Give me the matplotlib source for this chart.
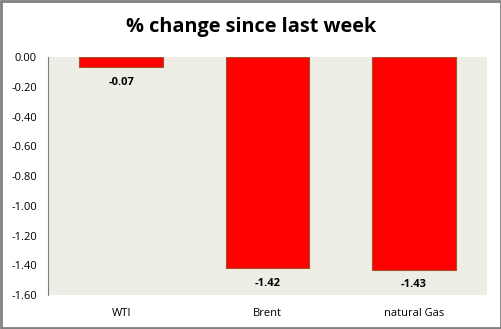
import matplotlib
matplotlib.use("Agg")
import matplotlib.pyplot as plt
from matplotlib.patches import Rectangle

categories = ["WTI", "Brent", "natural Gas"]
values = [-0.07, -1.42, -1.43]
yticks = [0.0, -0.2, -0.4, -0.6, -0.8, -1.0, -1.2, -1.4, -1.6]

plt.rcParams['font.family'] = ['Open Sans', 'DejaVu Sans']

fig = plt.figure(figsize=(5.02, 3.29), dpi=100)
fig.patch.set_facecolor("white")
ax = fig.add_axes([0.0956, 0.1033, 0.8745, 0.7234])
ax.set_facecolor("#EEEEE6")

x = list(range(len(categories)))
bars = ax.bar(x, values, width=0.57, color="#FF0000", edgecolor="#A0522D", linewidth=0.8)
ax.set_xlim(-0.5, 2.5)
ax.set_ylim(-1.6, 0.0)
ax.set_yticks(yticks)
ax.set_yticklabels([f"{v:.2f}" for v in yticks], fontsize=8)
ax.set_xticks(x)
ax.set_xticklabels(categories, fontsize=8)
ax.tick_params(axis='x', length=0, pad=9)
ax.tick_params(axis='y', length=0, pad=8)
for s in ["top", "right", "bottom"]:
    ax.spines[s].set_visible(False)
ax.spines["left"].set_color("#808080")
ax.spines["left"].set_linewidth(0.8)

for xi, v in zip(x, values):
    ax.annotate(f"{v:.2f}", (xi, v), xytext=(0, -7), textcoords="offset points",
                ha="center", va="top", fontsize=8, fontweight="bold")

fig.text(0.5, 0.918, "% change since last week", ha="center", va="center",
         fontsize=14.3, fontweight="bold")

fig.patches.append(Rectangle((0.002, 0.003), 0.996, 0.994, transform=fig.transFigure,
                             fill=False, edgecolor="#808080", linewidth=2))

fig.savefig("out.png", dpi=100)
